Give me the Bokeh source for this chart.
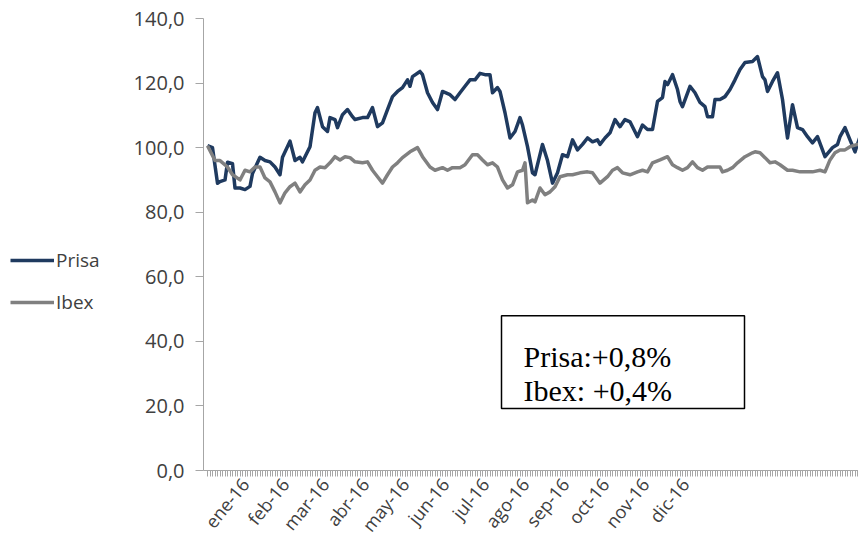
import math
from bokeh.plotting import figure
from bokeh.layouts import row
from bokeh.models import (Range1d, FixedTicker, Legend, LegendItem, BoxAnnotation, Label)
from bokeh.embed import file_html
from bokeh.resources import INLINE

# ---- data (trading-day index, value) ----
prisa_day = [0, 2, 4, 5, 7, 8, 10, 11, 13, 15, 17, 18, 21, 23, 25, 27, 29, 30, 33, 35, 37, 38, 41, 43, 44,
             46, 48, 49, 51, 52, 54, 56, 58, 59, 62, 64, 66, 68, 70, 72, 74, 76, 78, 80, 81, 82, 85, 86,
             88, 90, 92, 94, 97, 99, 101, 103, 105, 107, 109, 111, 113, 114, 116, 117, 119, 121, 123,
             125, 126, 128, 130, 131, 134, 136, 138, 140, 142, 144, 146, 148, 150, 152, 154, 156, 157,
             159, 161, 163, 165, 167, 169, 172, 174, 176, 178, 180, 182, 183, 184, 186, 188, 189, 190,
             193, 195, 197, 199, 200, 202, 203, 205, 207, 209, 211, 213, 215, 218, 220, 222, 223, 224,
             226, 228, 230, 231, 232, 234, 236, 238, 240, 242, 244, 247, 250, 252, 253, 255, 257, 259,
             261, 263]
prisa_val = [100.6, 100.0, 89.0, 89.5, 90.0, 95.5, 95.0, 87.5, 87.5, 87.0, 88.0, 92.0, 97.0, 96.0, 95.6,
             94.0, 91.6, 97.0, 102.0, 96.0, 97.0, 95.6, 100.3, 110.8, 112.4,
             106.5, 105.0, 109.3, 108.7, 106.2, 110.2, 111.8, 109.6, 108.7, 109.3, 109.3, 112.4, 106.5,
             107.7, 111.8, 115.8, 117.4, 118.6, 121.0, 119.0, 122.0, 123.6, 122.6,
             117.0, 114.0, 111.8, 117.4, 116.4, 114.9, 117.0, 119.0, 121.0, 121.0, 123.0, 122.6, 122.6,
             117.0, 118.6, 117.4, 110.8, 103.0, 105.0,
             109.3, 107.0, 100.3, 92.2, 91.6, 101.0, 96.0, 89.0, 92.2, 97.8, 97.2, 102.4, 99.3, 101.0,
             103.0, 101.8, 102.4, 101.0,
             103.0, 104.6, 108.7, 106.5, 108.7, 108.0, 103.4, 107.0, 105.6, 105.6, 114.3, 115.5, 120.5,
             119.5, 122.6, 118.0, 114.3, 112.7,
             119.0, 117.0, 114.0, 112.7, 109.6, 109.6, 114.9, 114.9, 115.8, 118.0, 121.0, 124.2, 126.4,
             126.7, 128.2, 122.0, 121.0, 117.4,
             120.5, 123.2, 114.9, 108.7, 103.0, 113.3, 106.2, 105.6, 103.4, 101.5, 103.4, 97.2, 100.0,
             101.0, 103.4, 106.2, 102.4, 98.7,
             103.4, 101.0]

ibex_day = [0, 3, 5, 8, 10, 13, 15, 17, 19, 21, 23, 25, 27, 29, 31, 33, 35, 37, 39, 41, 43, 45, 47, 49,
            51, 53, 55, 57, 59, 62, 64, 66, 68, 70, 72, 74, 76, 78, 81, 84, 86, 89, 91, 94, 96, 98, 101,
            103, 106, 108, 110, 112, 114, 116, 118, 120, 122, 124, 126, 127, 128, 130, 131, 133, 135,
            137, 139, 141, 144, 146, 149, 152, 154, 157, 160, 162, 164, 166, 169, 172, 174, 176, 178,
            181, 184, 186, 188, 190, 192, 194, 196, 198, 200, 203, 205, 206, 208, 210, 212, 215, 218,
            219, 221, 223, 225, 227, 229, 232, 234, 237, 240, 242, 245, 247, 249, 251, 253, 255, 257,
            260, 263]
ibex_val = [100.6, 96.0, 96.0, 94.0, 91.6, 90.0, 93.0, 92.5, 94.0, 94.0, 90.6, 89.4, 86.3, 82.9, 86.0,
            87.9, 89.0, 86.3, 88.5, 90.0, 93.0, 94.0, 93.8, 95.3,
            97.2, 96.2, 97.2, 96.9, 95.6, 95.3, 95.6, 93.0, 91.0, 89.0, 91.6, 94.0, 95.3, 96.9, 98.7,
            100.0, 97.2, 94.0, 93.0, 93.8, 93.0, 93.8, 93.8,
            94.7, 97.8, 97.8, 96.2, 94.7, 95.3, 94.0, 90.0, 87.5, 88.5, 92.5, 93.0, 95.3, 82.9, 83.8,
            83.2, 87.5, 85.4,
            86.3, 87.9, 91.0, 91.6, 91.6, 92.2, 92.5, 92.2, 89.0, 91.0, 93.0, 93.8, 92.2, 91.6, 92.5,
            93.0, 92.5, 95.3,
            96.2, 97.2, 94.7, 93.8, 93.0, 93.8, 95.6, 93.8, 93.0, 94.0, 94.0, 94.0, 92.5, 93.0, 93.8,
            95.3, 97.2, 98.4,
            98.7, 98.4, 96.9, 95.3, 95.6, 94.7, 93.0, 93.0, 92.5, 92.5, 92.5, 93.0, 92.5, 96.2, 98.4,
            99.3, 99.3, 100.3,
            101.0, 101.0]

month_labels = ["ene-16", "feb-16", "mar-16", "abr-16", "may-16", "jun-16",
                "jul-16", "ago-16", "sep-16", "oct-16", "nov-16", "dic-16"]
month_ticks = [15, 31, 47, 63, 79, 95, 111, 127, 143, 159, 175, 191]
y_ticks = [0, 20, 40, 60, 80, 100, 120, 140]
y_tick_labels = ["0,0", "20,0", "40,0", "60,0", "80,0", "100,0", "120,0", "140,0"]
series_names = ["Prisa", "Ibex"]
note_lines = ["Prisa:+0,8%", "Ibex: +0,4%"]

PRISA_COLOR = "#1F3A5F"
IBEX_COLOR = "#808080"
AXIS_COLOR = "#A6A6A6"
FONT = "Open Sans"
W_LEG = 120
H = 546

p = figure(width=858 - W_LEG, height=H, output_backend="svg", toolbar_location=None,
           x_range=Range1d(-1.6, 260.4), y_range=Range1d(0, 140),
           min_border_left=203 - W_LEG, min_border_right=0, min_border_top=18,
           min_border_bottom=76)
p.outline_line_color = None
p.xgrid.visible = False
p.ygrid.visible = False

p.line(prisa_day, prisa_val, line_color=PRISA_COLOR, line_width=3.5, line_join="round")
p.line(ibex_day, ibex_val, line_color=IBEX_COLOR, line_width=3.5, line_join="round")

# y axis
ya = p.yaxis[0]
ya.ticker = FixedTicker(ticks=y_ticks)
ya.major_label_overrides = {t: s for t, s in zip(y_ticks, y_tick_labels)}
ya.axis_line_color = AXIS_COLOR
ya.major_tick_line_color = AXIS_COLOR
ya.major_tick_out = 8
ya.major_tick_in = 0
ya.minor_tick_line_color = None
ya.major_label_standoff = 11
ya.major_label_text_font = FONT
ya.major_label_text_font_size = "20px"
ya.major_label_text_color = "#404040"

# x axis
xa = p.xaxis[0]
xa.ticker = FixedTicker(ticks=month_ticks, minor_ticks=list(range(0, 264)))
xa.major_label_overrides = {t: s for t, s in zip(month_ticks, month_labels)}
xa.major_label_orientation = 0.89
xa.axis_line_color = AXIS_COLOR
xa.major_tick_line_color = AXIS_COLOR
xa.minor_tick_line_color = AXIS_COLOR
xa.major_tick_out = 6
xa.major_tick_in = 0
xa.minor_tick_out = 6
xa.minor_tick_in = 0
xa.major_label_standoff = 4
xa.major_label_text_font = FONT
xa.major_label_text_font_size = "18px"
xa.major_label_text_color = "#404040"

# annotation box
box = BoxAnnotation(left=117.6, right=214.8, bottom=19.2, top=47.9,
                    fill_color=None, fill_alpha=0, line_color="black", line_alpha=1.0,
                    line_width=1.5)
p.add_layout(box)
for txt, yv in zip(note_lines, [35.4, 24.8]):
    p.add_layout(Label(x=126.4, y=yv, text=txt, text_font="Liberation Serif",
                       text_font_size="30px", text_color="black", text_baseline="alphabetic"))

# legend panel: a narrow figure whose view range excludes the data, holding only the legend
lp = figure(width=W_LEG, height=H, output_backend="svg", toolbar_location=None,
            x_axis_type=None, y_axis_type=None, x_range=Range1d(-20, -10), y_range=Range1d(0, 1),
            min_border=0)
lp.outline_line_color = None
lp.xgrid.visible = False
lp.ygrid.visible = False
lr_prisa = lp.line(prisa_day, prisa_val, line_color=PRISA_COLOR, line_width=3.5)
lr_ibex = lp.line(ibex_day, ibex_val, line_color=IBEX_COLOR, line_width=3.5)

legend = Legend(items=[LegendItem(label=series_names[0], renderers=[lr_prisa]),
                       LegendItem(label=series_names[1], renderers=[lr_ibex])],
                location=(10, 155), orientation="vertical")
legend.border_line_color = None
legend.background_fill_alpha = 0
legend.label_text_font = FONT
legend.label_text_font_size = "19px"
legend.label_text_color = "#404040"
legend.glyph_width = 44
legend.glyph_height = 20
legend.label_height = 20
legend.spacing = 16
legend.padding = 4
legend.margin = 0
legend.label_standoff = 2
lp.add_layout(legend, "center")

layout = row(lp, p, spacing=0)
open("out.html", "w").write(file_html(layout, INLINE))
